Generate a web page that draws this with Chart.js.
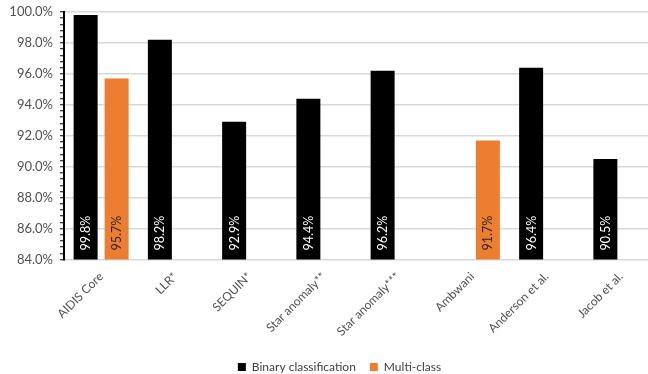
<!DOCTYPE html>
<html>
<head>
<meta charset="utf-8">
<script src="https://cdn.jsdelivr.net/npm/chart.js@4/dist/chart.umd.min.js"></script>
<style>
  html, body { margin: 0; padding: 0; background: #ffffff; overflow: hidden; }
  #wrap { position: relative; width: 658px; height: 374px; }
</style>
</head>
<body>
<div id="wrap"><canvas id="chart"></canvas></div>
<script>
// Detection accuracy per method
const categories = ['AIDIS Core', 'LLR*', 'SEQUIN*', 'Star anomaly**', 'Star anomaly***', 'Ambwani', 'Anderson et al.', 'Jacob et al.'];
const binaryValues = [99.8, 98.2, 92.9, 94.4, 96.2, null, 96.4, 90.5];
const multiClassValues = [95.7, null, null, null, null, 91.7, null, null];
const seriesNames = ['Binary classification', 'Multi-class'];

// Value axis range (percent)
const yMin = 84;
const yMax = 100;
const yMajorStep = 2;
const yMinorStep = 0.4;

const FONT = 'Lato, "Open Sans", sans-serif';

const isMajor = (v) => Math.abs((v - yMin) / yMajorStep - Math.round((v - yMin) / yMajorStep)) < 1e-6;

// Writes each bar's value vertically near the foot of the bar
const barValueLabels = {
  id: 'barValueLabels',
  afterDatasetsDraw(chart) {
    const ctx = chart.ctx;
    const bottom = chart.chartArea.bottom;
    chart.data.datasets.forEach((ds, di) => {
      const meta = chart.getDatasetMeta(di);
      meta.data.forEach((bar, i) => {
        const v = ds.data[i];
        if (v === null || v === undefined) return;
        ctx.save();
        ctx.translate(bar.x, bottom - 9);
        ctx.rotate(-Math.PI / 2);
        ctx.font = '12.5px ' + FONT;
        ctx.fillStyle = di === 0 ? '#ffffff' : '#262626';
        ctx.textAlign = 'left';
        ctx.textBaseline = 'middle';
        ctx.fillText(v.toFixed(1) + '%', 0, 0.5);
        ctx.restore();
      });
    });
  }
};

// Lets the value-axis labels use the space left of the axis box
const widenLabelArea = {
  id: 'widenLabelArea',
  afterLayout(chart) {
    chart.scales.y.left = 0;
  }
};

new Chart(document.getElementById('chart'), {
  type: 'bar',
  data: {
    labels: categories,
    datasets: [
      {
        label: seriesNames[0],
        data: binaryValues,
        backgroundColor: '#000000',
        categoryPercentage: 0.835,
        barPercentage: 0.774
      },
      {
        label: seriesNames[1],
        data: multiClassValues,
        backgroundColor: '#ED7D31',
        categoryPercentage: 0.835,
        barPercentage: 0.774
      }
    ]
  },
  options: {
    responsive: true,
    maintainAspectRatio: false,
    animation: false,
    layout: { padding: { left: 21, right: 0, top: 12, bottom: -9 } },
    plugins: {
      legend: {
        position: 'bottom',
        labels: {
          boxWidth: 8,
          boxHeight: 8,
          padding: 14,
          color: '#404040',
          font: { family: FONT, size: 12 }
        }
      },
      tooltip: { enabled: false }
    },
    scales: {
      x: {
        grid: { display: false, drawTicks: false },
        border: { display: true, color: '#d9d9d9', width: 1.5 },
        ticks: {
          color: '#505050',
          font: { family: FONT, size: 12 },
          minRotation: 45,
          maxRotation: 45,
          autoSkip: false,
          padding: 10
        },
        afterFit(scale) { scale.height = 87.5; }
      },
      y: {
        min: yMin,
        max: yMax,
        ticks: {
          stepSize: yMinorStep,
          autoSkip: false,
          maxTicksLimit: 100,
          color: '#505050',
          font: { family: FONT, size: 13 },
          padding: 7,
          callback(v) { return isMajor(v) ? v.toFixed(1) + '%' : ''; }
        },
        grid: {
          color(c) { return c.tick && isMajor(c.tick.value) && c.tick.value !== yMin ? '#d9d9d9' : 'rgba(0,0,0,0)'; },
          lineWidth: 1.5,
          tickColor: '#000000',
          tickLength: 4,
          tickWidth: 1
        },
        border: { display: true, color: '#000000', width: 2 },
        afterFit(scale) {
          scale.width = 43;
          scale.paddingTop = 0;
          scale.paddingBottom = 0;
        }
      }
    }
  },
  plugins: [barValueLabels, widenLabelArea]
});
</script>
</body>
</html>
